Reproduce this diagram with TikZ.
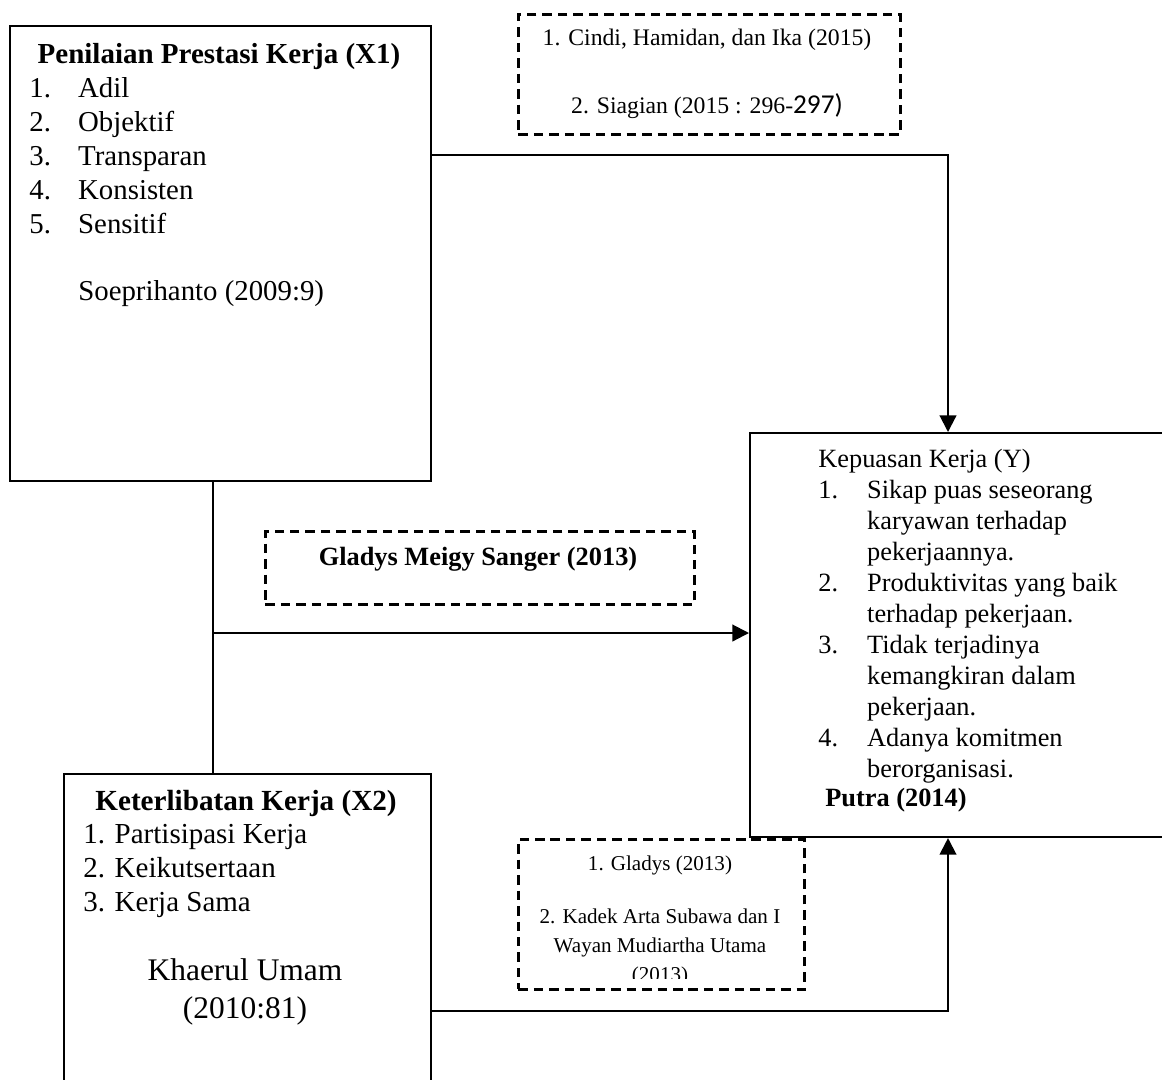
\documentclass[tikz,border=0pt]{standalone}
\usepackage{fontspec}
\setmainfont{Liberation Serif}
\newfontfamily\calibri{Carlito}
\usetikzlibrary{arrows.meta,positioning}

\newcommand{\numitem}[2]{\makebox[#1][l]{#2}}

\tikzset{
  box/.style={draw, line width=1.2pt, inner sep=0pt, anchor=north west},
  refbox/.style={draw, line width=1.6pt, dash pattern=on 5.4pt off 3.4pt, inner sep=0pt, anchor=north west},
  txt/.style={inner sep=0pt, anchor=base west, align=left},
  ctxt/.style={inner sep=0pt, anchor=base, align=center},
  link/.style={line width=1.2pt},
  arrow/.style={line width=1.2pt, -{Triangle[length=9.5pt,width=9.5pt]}}
}

\begin{document}
\begin{tikzpicture}[x=0.02cm, y=-0.02cm]
    \useasboundingbox (0,0) rectangle (1162,1079);

    % Boxes
    \node[box, minimum width=8.42cm, minimum height=9.10cm] (x1) at (9,25) {};
    \node[box, minimum width=9.02cm, minimum height=8.08cm] (y) at (749,432) {};
    \node[box, minimum width=7.34cm, minimum height=6.74cm] (x2) at (63,773) {};

    % Reference boxes
    \node[refbox, minimum width=7.64cm, minimum height=2.40cm] (ref1) at (517,13) {};
    \node[refbox, minimum width=8.58cm, minimum height=1.46cm] (ref2) at (264,530) {};
    \node[refbox, minimum width=5.72cm, minimum height=3.00cm] (ref3) at (517,838) {};

    % Penilaian Prestasi Kerja (multi-line nodes sit on their last baseline)
    \node[ctxt, font=\fontsize{16.5}{19}\selectfont\bfseries] (x1title) at (219,63) {Penilaian Prestasi Kerja (X1)};
    \node[txt, font=\fontsize{16.4}{19.3}\selectfont] (x1list) at (29,233)
        {\numitem{27.8pt}{1.}Adil\\ \numitem{27.8pt}{2.}Objektif\\ \numitem{27.8pt}{3.}Transparan\\
         \numitem{27.8pt}{4.}Konsisten\\ \numitem{27.8pt}{5.}Sensitif};
    \node[txt, font=\fontsize{16.4}{19.3}\selectfont] (x1src) at (78,300) {Soeprihanto (2009:9)};

    % Kepuasan Kerja
    \node[txt, font=\fontsize{15}{17.6}\selectfont] (ylist) at (818,777)
        {Kepuasan Kerja (Y)\\
         \numitem{27.8pt}{1.}Sikap puas seseorang\\ \numitem{27.8pt}{}karyawan terhadap\\ \numitem{27.8pt}{}pekerjaannya.\\
         \numitem{27.8pt}{2.}Produktivitas yang baik\\ \numitem{27.8pt}{}terhadap pekerjaan.\\
         \numitem{27.8pt}{3.}Tidak terjadinya\\ \numitem{27.8pt}{}kemangkiran dalam\\ \numitem{27.8pt}{}pekerjaan.\\
         \numitem{27.8pt}{4.}Adanya komitmen\\ \numitem{27.8pt}{}berorganisasi.};
    \node[txt, font=\fontsize{15}{17.6}\selectfont\bfseries] (ysrc) at (825,806) {Putra (2014)};

    % Keterlibatan Kerja
    \node[ctxt, font=\fontsize{16.6}{19}\selectfont\bfseries] (x2title) at (246,810) {Keterlibatan Kerja (X2)};
    \node[txt, font=\fontsize{16.5}{19.2}\selectfont] (x2list) at (83,911)
        {1. Partisipasi Kerja\\ 2. Keikutsertaan\\ 3. Kerja Sama};
    \node[ctxt, font=\fontsize{17.9}{21.5}\selectfont] (x2src) at (245,1018) {Khaerul Umam\\ (2010:81)};

    % References
    \node[ctxt, font=\fontsize{13.5}{38.5}\selectfont] (ref1txt) at (707,113)
        {1. Cindi, Hamidan, dan Ika (2015)\\ 2. Siagian (2015 : 296-{\calibri\fontsize{15.5}{18}\selectfont 297)}};
    \node[ctxt, font=\fontsize{15}{18}\selectfont\bfseries] (ref2txt) at (478,565) {Gladys Meigy Sanger (2013)};
    \begin{scope}
        \clip (517,838) rectangle (803,978);
        \node[ctxt, font=\fontsize{12}{16.4}\selectfont] (ref3txt) at (660,981)
            {1. Gladys (2013)\\[13.6pt] 2. Kadek Arta Subawa dan I\\ Wayan Mudiartha Utama\\ (2013)};
    \end{scope}

    % Connectors
    \coordinate (b1) at (948,155);
    \coordinate (j) at (213,633);
    \coordinate (b2) at (948,1011);
    \draw[arrow] (x1.east |- b1) -- (b1) -- (b1 |- y.north);
    \draw[link] (j |- x1.south) -- (j |- x2.north);
    \draw[arrow] (j) -- (j -| y.west);
    \draw[arrow] (x2.east |- b2) -- (b2) -- (b2 |- y.south);
\end{tikzpicture}
\end{document}
